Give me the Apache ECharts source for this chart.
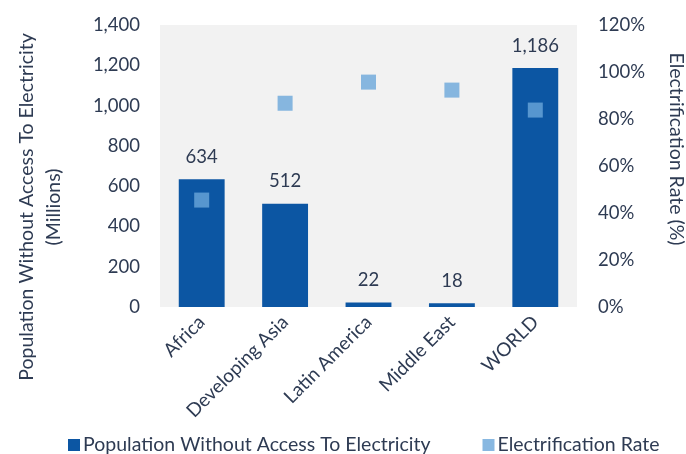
<!DOCTYPE html>
<html><head><meta charset="utf-8">
<script src="https://cdn.jsdelivr.net/npm/echarts@6/dist/echarts.min.js"></script>
<style>html,body{margin:0;padding:0;background:#fff}#c{width:686px;height:454px}</style>
</head><body><div id="c"></div>
<script>
const categories = ['Africa', 'Developing Asia', 'Latin America', 'Middle East', 'WORLD'];
const population = [634, 512, 22, 18, 1186];
const electrificationRate = [45.5, 86.7, 95.7, 92.3, 83.8];
const leftTicks = [0, 200, 400, 600, 800, 1000, 1200, 1400];
const rightTicks = [0, 20, 40, 60, 80, 100, 120];
const leftAxisName = ['Population Without Access To Electricity', '(Millions)'];
const rightAxisName = 'Electrification Rate (%)';

const txt = '#2e3b53';
const ff = 'Lato, "Open Sans", sans-serif';
const chart = echarts.init(document.getElementById('c'));
chart.setOption({
  animation: false,
  textStyle: { fontFamily: ff, color: txt },
  grid: { left: 160, right: 109, top: 25, bottom: 147, backgroundColor: '#f2f2f2', show: true, borderWidth: 0 },
  legend: {
    top: 430, left: 63, itemGap: 52, itemWidth: 12, itemHeight: 12,
    textStyle: { fontFamily: ff, fontSize: 19.5, color: txt, padding: [0, 0, 0, -2] },
    data: [{ name: 'Population Without Access To Electricity', icon: 'rect' }, { name: 'Electrification Rate', icon: 'rect' }]
  },
  graphic: [
    { type: 'text', x: 27, y: 207, rotation: Math.PI / 2,
      style: { text: leftAxisName[0], fill: txt, font: '19.5px ' + ff, align: 'center', verticalAlign: 'middle' } },
    { type: 'text', x: 54, y: 207, rotation: Math.PI / 2,
      style: { text: leftAxisName[1], fill: txt, font: '19.5px ' + ff, align: 'center', verticalAlign: 'middle' } },
    { type: 'text', x: 676, y: 149, rotation: -Math.PI / 2,
      style: { text: rightAxisName, fill: txt, font: '19.5px ' + ff, align: 'center', verticalAlign: 'middle' } }
  ],
  xAxis: {
    type: 'category', data: categories,
    axisLine: { show: false }, axisTick: { show: false },
    axisLabel: { rotate: 45, fontSize: 19, color: txt, fontFamily: ff, margin: 12 }
  },
  yAxis: [{
    type: 'value', min: leftTicks[0], max: leftTicks[leftTicks.length - 1], interval: 200,
    splitLine: { show: false }, axisLine: { show: false }, axisTick: { show: false },
    axisLabel: { fontSize: 18.5, color: txt, fontFamily: ff, margin: 20,
      formatter: v => v.toLocaleString('en-US') }
  }, {
    type: 'value', min: rightTicks[0], max: rightTicks[rightTicks.length - 1], interval: 20,
    splitLine: { show: false }, axisLine: { show: false }, axisTick: { show: false },
    axisLabel: { fontSize: 18.5, color: txt, fontFamily: ff, margin: 21, formatter: '{value}%' }
  }],
  series: [{
    name: 'Population Without Access To Electricity', type: 'bar', data: population,
    barWidth: '55%', itemStyle: { color: '#0c56a3' },
    label: { show: true, position: 'top', distance: 13, fontSize: 18.5, color: txt, fontFamily: ff,
      formatter: p => p.value.toLocaleString('en-US') }
  }, {
    name: 'Electrification Rate', type: 'scatter', yAxisIndex: 1, data: electrificationRate,
    symbol: 'rect', symbolSize: 15, itemStyle: { color: '#6aa6da' }, z: 5
  }]
});
</script></body></html>
